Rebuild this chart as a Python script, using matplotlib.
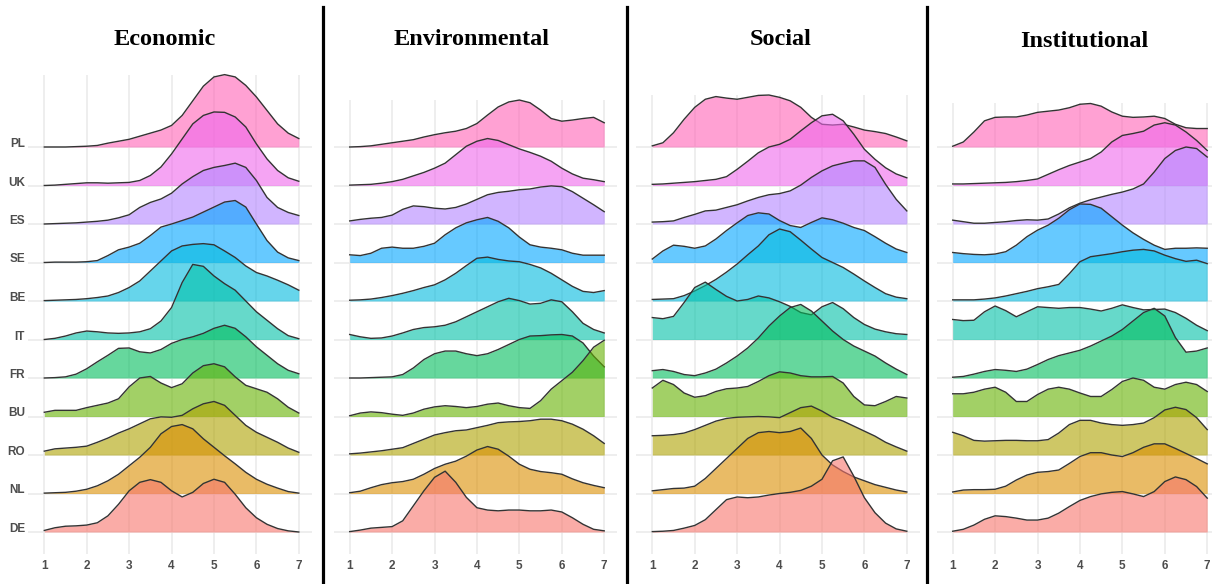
import numpy as np
import matplotlib
matplotlib.use('Agg')
import matplotlib.pyplot as plt
from matplotlib.lines import Line2D

# ---------------- data ----------------
x_grid = [1.0, 1.25, 1.5, 1.75, 2.0, 2.25, 2.5, 2.75, 3.0, 3.25, 3.5, 3.75, 4.0,
          4.25, 4.5, 4.75, 5.0, 5.25, 5.5, 5.75, 6.0, 6.25, 6.5, 6.75, 7.0]
countries = ['DE', 'NL', 'RO', 'BU', 'FR', 'IT', 'BE', 'SE', 'ES', 'UK', 'PL']  # bottom -> top
colors = ['#F8766D', '#DB8E00', '#AEA200', '#64B200', '#00BD5C', '#00C1A7',
          '#00BADE', '#00A6FF', '#B385FF', '#EF67EB', '#FF63B6']
panel_titles = ['Economic', 'Environmental', 'Social', 'Institutional']
tick_values = [1, 2, 3, 4, 5, 6, 7]
tick_labels = ['1', '2', '3', '4', '5', '6', '7']

economic = {
    'PL': [0, 0, 0, 0.01, 0.02, 0.04, 0.1, 0.15, 0.2, 0.28, 0.36, 0.44, 0.56, 0.82, 1.2, 1.58, 1.82, 1.88, 1.82, 1.6, 1.3, 0.95, 0.6, 0.36, 0.22],
    'UK': [0, 0.01, 0.03, 0.05, 0.07, 0.07, 0.06, 0.07, 0.08, 0.13, 0.26, 0.48, 0.82, 1.21, 1.6, 1.82, 1.91, 1.9, 1.78, 1.52, 1.08, 0.69, 0.39, 0.2, 0.11],
    'ES': [0, 0.01, 0.02, 0.03, 0.05, 0.07, 0.1, 0.16, 0.24, 0.43, 0.56, 0.65, 0.8, 1.04, 1.23, 1.39, 1.47, 1.52, 1.58, 1.47, 1.13, 0.69, 0.43, 0.3, 0.22],
    'SE': [0, 0.01, 0.01, 0.01, 0.02, 0.05, 0.18, 0.33, 0.4, 0.5, 0.7, 0.92, 1.0, 1.09, 1.18, 1.31, 1.44, 1.57, 1.61, 1.44, 1.0, 0.57, 0.27, 0.12, 0.05],
    'BE': [0.01, 0.02, 0.03, 0.04, 0.06, 0.09, 0.13, 0.22, 0.35, 0.52, 0.78, 1.04, 1.3, 1.43, 1.47, 1.49, 1.46, 1.3, 1.13, 0.91, 0.74, 0.65, 0.54, 0.42, 0.28],
    'IT': [0, 0.03, 0.09, 0.17, 0.22, 0.2, 0.17, 0.16, 0.17, 0.2, 0.28, 0.48, 0.83, 1.48, 1.95, 1.9, 1.65, 1.45, 1.28, 1.0, 0.72, 0.5, 0.28, 0.1, 0.02],
    'FR': [0, 0.01, 0.03, 0.1, 0.24, 0.42, 0.59, 0.77, 0.78, 0.68, 0.65, 0.74, 0.9, 1.0, 1.07, 1.16, 1.29, 1.37, 1.29, 1.07, 0.81, 0.59, 0.37, 0.2, 0.11],
    'BU': [0.11, 0.16, 0.16, 0.16, 0.23, 0.29, 0.35, 0.46, 0.77, 1.0, 1.04, 0.87, 0.75, 0.85, 1.13, 1.32, 1.37, 1.29, 1.03, 0.81, 0.72, 0.63, 0.46, 0.24, 0.09],
    'RO': [0.1, 0.16, 0.18, 0.2, 0.23, 0.33, 0.44, 0.57, 0.68, 0.81, 0.94, 0.99, 0.98, 1.03, 1.2, 1.33, 1.39, 1.29, 1.03, 0.77, 0.59, 0.46, 0.33, 0.18, 0.07],
    'NL': [0.01, 0.02, 0.03, 0.06, 0.11, 0.2, 0.33, 0.5, 0.72, 0.94, 1.2, 1.55, 1.74, 1.79, 1.68, 1.42, 1.2, 0.98, 0.77, 0.55, 0.37, 0.24, 0.14, 0.05, 0.01],
    'DE': [0.04, 0.11, 0.15, 0.16, 0.18, 0.24, 0.42, 0.72, 1.07, 1.29, 1.36, 1.29, 1.07, 0.91, 1.03, 1.26, 1.37, 1.29, 0.98, 0.63, 0.37, 0.2, 0.09, 0.03, 0],
}
environmental = {
    'PL': [0, 0.01, 0.03, 0.07, 0.11, 0.15, 0.19, 0.26, 0.32, 0.37, 0.41, 0.48, 0.61, 0.83, 1.04, 1.17, 1.22, 1.15, 0.96, 0.74, 0.67, 0.7, 0.74, 0.77, 0.63],
    'UK': [0.01, 0.02, 0.03, 0.06, 0.1, 0.16, 0.25, 0.34, 0.45, 0.58, 0.8, 1.02, 1.15, 1.22, 1.17, 1.06, 0.95, 0.86, 0.76, 0.63, 0.45, 0.3, 0.19, 0.15, 0.1],
    'ES': [0.08, 0.12, 0.15, 0.17, 0.23, 0.38, 0.47, 0.45, 0.41, 0.39, 0.43, 0.52, 0.64, 0.76, 0.82, 0.85, 0.89, 0.91, 0.96, 0.99, 0.97, 0.84, 0.67, 0.5, 0.32],
    'SE': [0.2, 0.18, 0.24, 0.37, 0.4, 0.37, 0.37, 0.42, 0.5, 0.72, 0.9, 1.03, 1.11, 1.17, 1.07, 0.9, 0.66, 0.46, 0.4, 0.37, 0.33, 0.24, 0.19, 0.19, 0.19],
    'BE': [0.02, 0.03, 0.05, 0.09, 0.14, 0.2, 0.27, 0.35, 0.42, 0.55, 0.72, 0.92, 1.11, 1.14, 1.08, 1.04, 1.02, 0.95, 0.86, 0.72, 0.55, 0.38, 0.25, 0.22, 0.27],
    'IT': [0.13, 0.07, 0.03, 0.04, 0.09, 0.17, 0.26, 0.31, 0.33, 0.37, 0.46, 0.59, 0.72, 0.85, 0.98, 1.07, 1.01, 0.92, 0.94, 1.03, 0.98, 0.72, 0.42, 0.26, 0.17],
    'FR': [0, 0, 0.01, 0.02, 0.03, 0.09, 0.26, 0.48, 0.63, 0.7, 0.7, 0.63, 0.58, 0.63, 0.74, 0.87, 1.0, 1.09, 1.1, 1.12, 1.13, 1.09, 0.91, 0.57, 0.29],
    'BU': [0.02, 0.09, 0.12, 0.1, 0.06, 0.03, 0.09, 0.19, 0.25, 0.28, 0.26, 0.23, 0.26, 0.32, 0.35, 0.28, 0.23, 0.21, 0.41, 0.71, 0.93, 1.15, 1.45, 1.8, 1.98],
    'RO': [0.03, 0.05, 0.08, 0.11, 0.15, 0.19, 0.3, 0.41, 0.52, 0.58, 0.63, 0.65, 0.71, 0.77, 0.84, 0.86, 0.87, 0.89, 0.93, 0.93, 0.89, 0.8, 0.67, 0.5, 0.3],
    'NL': [0.02, 0.06, 0.15, 0.23, 0.28, 0.31, 0.37, 0.5, 0.65, 0.76, 0.84, 0.97, 1.13, 1.22, 1.15, 0.97, 0.76, 0.63, 0.57, 0.54, 0.5, 0.38, 0.28, 0.21, 0.15],
    'DE': [0.01, 0.05, 0.1, 0.12, 0.14, 0.29, 0.68, 1.07, 1.42, 1.58, 1.29, 0.9, 0.63, 0.57, 0.55, 0.57, 0.57, 0.55, 0.55, 0.57, 0.52, 0.37, 0.2, 0.07, 0.03],
}
social = {
    'PL': [0.03, 0.11, 0.37, 0.72, 1.03, 1.24, 1.31, 1.27, 1.24, 1.29, 1.34, 1.35, 1.29, 1.2, 1.03, 0.77, 0.59, 0.57, 0.59, 0.52, 0.44, 0.4, 0.35, 0.26, 0.16],
    'UK': [0.03, 0.04, 0.06, 0.08, 0.1, 0.13, 0.16, 0.23, 0.42, 0.63, 0.85, 1.0, 1.07, 1.2, 1.42, 1.63, 1.81, 1.85, 1.68, 1.33, 0.94, 0.68, 0.46, 0.3, 0.2],
    'ES': [0.05, 0.06, 0.08, 0.17, 0.25, 0.34, 0.36, 0.43, 0.5, 0.6, 0.69, 0.76, 0.79, 0.86, 1.01, 1.21, 1.38, 1.51, 1.58, 1.64, 1.64, 1.47, 1.03, 0.64, 0.34],
    'SE': [0.09, 0.3, 0.45, 0.42, 0.37, 0.43, 0.61, 0.83, 1.03, 1.22, 1.29, 1.26, 1.09, 0.96, 0.91, 1.04, 1.16, 1.11, 1.02, 0.91, 0.83, 0.67, 0.5, 0.35, 0.26],
    'BE': [0.04, 0.05, 0.06, 0.14, 0.26, 0.4, 0.56, 0.75, 0.96, 1.2, 1.43, 1.72, 1.87, 1.8, 1.58, 1.35, 1.13, 1.0, 0.87, 0.7, 0.52, 0.35, 0.19, 0.1, 0.06],
    'IT': [0.57, 0.54, 0.6, 0.96, 1.35, 1.49, 1.3, 1.12, 1.0, 1.04, 1.13, 1.08, 0.98, 0.86, 0.7, 0.64, 0.85, 0.96, 0.8, 0.57, 0.39, 0.27, 0.2, 0.15, 0.13],
    'FR': [0.19, 0.22, 0.17, 0.09, 0.06, 0.13, 0.23, 0.39, 0.57, 0.78, 1.04, 1.35, 1.61, 1.83, 1.91, 1.74, 1.48, 1.22, 1.0, 0.83, 0.7, 0.57, 0.39, 0.23, 0.09],
    'BU': [0.74, 0.94, 0.83, 0.61, 0.5, 0.54, 0.65, 0.72, 0.74, 0.78, 0.91, 1.06, 1.16, 1.13, 1.06, 1.03, 1.03, 1.04, 0.87, 0.52, 0.3, 0.28, 0.39, 0.52, 0.48],
    'RO': [0.5, 0.51, 0.53, 0.57, 0.66, 0.77, 0.88, 0.95, 0.98, 0.99, 1.0, 0.99, 0.97, 1.1, 1.23, 1.27, 1.14, 0.98, 0.88, 0.75, 0.62, 0.49, 0.33, 0.21, 0.1],
    'NL': [0.07, 0.1, 0.13, 0.14, 0.19, 0.39, 0.65, 0.91, 1.17, 1.43, 1.58, 1.61, 1.58, 1.61, 1.7, 1.43, 1.0, 0.74, 0.57, 0.43, 0.33, 0.23, 0.16, 0.09, 0.04],
    'DE': [0.01, 0.02, 0.04, 0.1, 0.17, 0.32, 0.58, 0.84, 0.91, 0.89, 0.91, 0.96, 1.0, 1.03, 1.08, 1.19, 1.37, 1.85, 1.95, 1.45, 0.89, 0.5, 0.23, 0.08, 0.02],
}
institutional = {
    'PL': [0.02, 0.13, 0.39, 0.68, 0.77, 0.78, 0.78, 0.83, 0.9, 0.93, 0.96, 1.02, 1.11, 1.13, 1.06, 0.91, 0.8, 0.77, 0.78, 0.8, 0.74, 0.59, 0.5, 0.48, 0.48],
    'UK': [0.04, 0.04, 0.05, 0.06, 0.07, 0.08, 0.1, 0.13, 0.17, 0.29, 0.41, 0.52, 0.61, 0.7, 0.87, 1.13, 1.3, 1.35, 1.41, 1.57, 1.63, 1.57, 1.39, 1.17, 0.91],
    'ES': [0.1, 0.06, 0.02, 0.02, 0.04, 0.06, 0.09, 0.11, 0.1, 0.13, 0.26, 0.42, 0.54, 0.63, 0.7, 0.77, 0.83, 0.91, 1.04, 1.35, 1.7, 1.91, 2.0, 1.96, 1.74],
    'SE': [0.26, 0.23, 0.21, 0.2, 0.22, 0.28, 0.45, 0.67, 0.84, 0.97, 1.15, 1.37, 1.52, 1.51, 1.41, 1.19, 0.97, 0.77, 0.6, 0.45, 0.34, 0.37, 0.37, 0.38, 0.37],
    'BE': [0.03, 0.03, 0.03, 0.05, 0.08, 0.13, 0.19, 0.25, 0.32, 0.37, 0.43, 0.71, 1.02, 1.15, 1.19, 1.23, 1.28, 1.32, 1.34, 1.3, 1.19, 1.1, 1.03, 1.06, 0.97],
    'IT': [0.52, 0.49, 0.5, 0.72, 0.87, 0.75, 0.59, 0.72, 0.85, 0.83, 0.81, 0.83, 0.83, 0.79, 0.74, 0.81, 0.9, 0.83, 0.77, 0.78, 0.79, 0.7, 0.55, 0.37, 0.23],
    'FR': [0.02, 0.04, 0.1, 0.17, 0.22, 0.2, 0.17, 0.23, 0.35, 0.48, 0.58, 0.65, 0.72, 0.83, 0.96, 1.09, 1.26, 1.48, 1.7, 1.81, 1.61, 1.05, 0.67, 0.7, 0.78],
    'BU': [0.59, 0.59, 0.63, 0.71, 0.76, 0.63, 0.39, 0.39, 0.57, 0.71, 0.76, 0.71, 0.61, 0.52, 0.52, 0.7, 0.91, 1.0, 0.94, 0.76, 0.71, 0.83, 0.89, 0.83, 0.65],
    'RO': [0.59, 0.5, 0.38, 0.36, 0.37, 0.38, 0.38, 0.37, 0.37, 0.4, 0.57, 0.79, 0.9, 0.9, 0.83, 0.79, 0.77, 0.79, 0.83, 0.97, 1.17, 1.24, 1.18, 0.97, 0.66],
    'NL': [0.04, 0.09, 0.1, 0.1, 0.11, 0.19, 0.35, 0.48, 0.55, 0.57, 0.61, 0.78, 0.96, 1.06, 1.06, 1.0, 0.96, 1.06, 1.2, 1.29, 1.29, 1.17, 1.04, 0.91, 0.77],
    'DE': [0.02, 0.07, 0.18, 0.33, 0.42, 0.4, 0.36, 0.31, 0.31, 0.36, 0.49, 0.66, 0.82, 0.92, 0.99, 1.03, 1.05, 0.99, 0.92, 1.05, 1.31, 1.43, 1.36, 1.18, 0.88],
}
panel_data = [economic, environmental, social, institutional]

# ---------------- layout ----------------
W, H = 1212, 584
fig = plt.figure(figsize=(W / 100, H / 100), dpi=100)
fig.patch.set_facecolor('white')

XMIN, XMAX = 0.62, 7.30
YMIN, YMAX = -0.56, 12.0
px_per_x = 42.42
row_px = 38.5
x1_px = [44.3, 349.7, 652.3, 952.7]           # pixel location of x = 1 in each panel
base0_px = 532.0                               # pixel row of the lowest baseline
title_px = [(165, 45), (472, 45), (781, 45), (1084, 47)]   # baseline of title text
sep_px = [323.3, 626.7, 927.3]

ax_w = (XMAX - XMIN) * px_per_x
ax_h = (YMAX - YMIN) * row_px
ax_bottom_px = base0_px - YMIN * row_px

grid_col = '#EBEBEB'
line_col = '#333333'
text_col = '#4D4D4D'

for p, data in enumerate(panel_data):
    left_px = x1_px[p] - (1 - XMIN) * px_per_x
    ax = fig.add_axes([left_px / W, 1 - ax_bottom_px / H, ax_w / W, ax_h / H])
    ax.set_xlim(XMIN, XMAX)
    ax.set_ylim(YMIN, YMAX)
    for s in ax.spines.values():
        s.set_visible(False)
    ax.set_facecolor('none')

    xs = np.array(x_grid)
    top = max(i + max(data[c]) for i, c in enumerate(countries))
    # vertical grid lines
    ax.vlines(tick_values, YMIN, top, color=grid_col, lw=1.2, zorder=0)
    # baseline grid lines
    ax.hlines(range(len(countries)), XMIN, XMAX, color=grid_col, lw=1.2, zorder=0)

    # draw top row first so lower rows lie in front
    n = len(countries)
    for k, i in enumerate(range(n - 1, -1, -1)):
        c = countries[i]
        ys = np.array(data[c]) + i
        z = 2 + 2 * k
        ax.fill_between(xs, i, ys, color=colors[i], alpha=0.6, lw=0, zorder=z)
        ax.plot(xs, ys, color=line_col, lw=1.0, zorder=z + 1, solid_joinstyle='round')

    ax.set_xticks(tick_values)
    ax.set_xticklabels(tick_labels, fontsize=8.5, color=text_col,
                       fontfamily='Liberation Sans', fontweight='bold')
    ax.tick_params(axis='x', length=0, pad=4.6)
    if p == 0:
        ax.set_yticks(range(n))
        ax.set_yticklabels(countries, fontsize=8.5, color=text_col,
                           fontfamily='Liberation Sans', fontweight='bold')
        ax.tick_params(axis='y', length=0, pad=2.2)
        for lab in ax.get_yticklabels():
            lab.set_verticalalignment('baseline')
    else:
        ax.set_yticks([])

    tx, ty = title_px[p]
    fig.text(tx / W, 1 - ty / H, panel_titles[p], ha='center', va='baseline',
             fontsize=17.5, fontweight='bold', fontfamily='Liberation Serif', color='black')

for sx in sep_px:
    fig.add_artist(Line2D([sx / W, sx / W], [0, 1 - 7 / H], color='black', lw=2.3,
                          transform=fig.transFigure))

fig.savefig('out.png', dpi=100)
